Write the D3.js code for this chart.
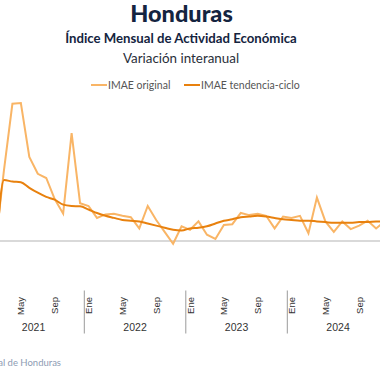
<!DOCTYPE html>
<html>
<head>
<meta charset="utf-8">
<script src="https://cdn.jsdelivr.net/npm/d3@7"></script>
<style>
  html, body { margin: 0; padding: 0; background: #fff; }
  svg { display: block; }
</style>
</head>
<body>
<div id="chart"></div>
<script>
// ---- Data ----
const years = ["2021", "2022", "2023", "2024"];
const monthNames = ["Ene","Feb","Mar","Abr","May","Jun","Jul","Ago","Sep","Oct","Nov","Dic"];
const tickMonths = ["Ene", "May", "Sep"];
// first month index with data: Feb 2021 (index 1)
const startIndex = 1;
const imaeOriginal = [
  -0.5, 10.1, 19.6, 19.7, 12.0, 9.6, 9.0, 6.0, 3.9, 15.4, 5.4,          // Feb-Dic 2021
  5.0, 3.3, 3.8, 3.9, 3.6, 3.4, 1.8, 5.0, 3.0, 1.3, -0.4, 2.1,          // 2022
  1.6, 2.8, 0.9, 0.3, 2.3, 2.4, 4.0, 3.7, 3.9, 3.6, 1.8, 3.5,           // 2023
  3.3, 3.6, 1.1, 6.2, 2.8, 1.3, 2.8, 1.7, 2.2, 2.9, 1.8, 2.8            // 2024
];
const imaeTendencia = [
  -2.9, 8.7, 8.5, 8.4, 7.6, 6.9, 6.3, 5.9, 5.2, 5.0, 4.95,
  4.5, 4.0, 3.6, 3.3, 3.0, 2.9, 2.8, 2.5, 2.2, 1.9, 1.6, 1.5,
  1.8, 1.9, 2.1, 2.5, 2.9, 3.1, 3.4, 3.5, 3.6, 3.5, 3.3, 3.1,
  3.0, 2.9, 2.9, 2.8, 2.7, 2.6, 2.6, 2.6, 2.7, 2.7, 2.8, 2.8
];
const seriesNames = ["IMAE original", "IMAE tendencia-ciclo"];
const seriesColors = ["#F9B566", "#E8810E"];

// ---- Setup ----
const W = 380, H = 380;
const svg = d3.select("#chart").append("svg").attr("width", W).attr("height", H);

const months = [];
years.forEach(y => monthNames.forEach(m => months.push(y + "-" + m)));

const x = d3.scaleBand().domain(months).range([-17.2, 388.8]).padding(0);
const y = d3.scaleLinear().domain([-1, 20]).range([248, 101]);
const cx = k => x(k) + x.bandwidth() / 2;

// Titles
svg.append("text").attr("x", 181.5).attr("y", 22).attr("text-anchor", "middle")
  .attr("font-family", "Lato, 'Open Sans', sans-serif").attr("font-weight", 900)
  .attr("font-size", 23.5).attr("fill", "#142440").text("Honduras");
svg.append("text").attr("x", 181).attr("y", 43).attr("text-anchor", "middle")
  .attr("font-family", "Lato, 'Open Sans', sans-serif").attr("font-weight", 700)
  .attr("font-size", 13.2).attr("fill", "#142440").text("Índice Mensual de Actividad Económica");
svg.append("text").attr("x", 181).attr("y", 63).attr("text-anchor", "middle")
  .attr("font-family", "Lato, 'Open Sans', sans-serif")
  .attr("font-size", 13.4).attr("fill", "#2a2f3a").text("Variación interanual");

// Legend
const legendX = [91, 184];
seriesNames.forEach((n, i) => {
  const g = svg.append("g").attr("transform", `translate(${legendX[i]},85)`);
  g.append("line").attr("x1", 0).attr("x2", 16).attr("y1", 0).attr("y2", 0)
    .attr("stroke", seriesColors[i]).attr("stroke-width", 2);
  g.append("text").attr("x", 17).attr("y", 3.5)
    .attr("font-family", "Lato, 'Open Sans', sans-serif").attr("font-size", 10.5)
    .attr("fill", "#555").text(n);
});

// Baseline
svg.append("line").attr("x1", 0).attr("x2", W).attr("y1", y(0)).attr("y2", y(0))
  .attr("stroke", "#b3b3b3").attr("stroke-width", 1.2);

// Lines
const dataKeys = months.slice(startIndex);
const lineLin = d3.line().x((d, i) => cx(dataKeys[i])).y(d => y(d));
const lineSmooth = d3.line().x((d, i) => cx(dataKeys[i])).y(d => y(d)).curve(d3.curveMonotoneX);

svg.append("path").datum(imaeOriginal).attr("d", lineLin)
  .attr("fill", "none").attr("stroke", seriesColors[0]).attr("stroke-width", 2)
  .attr("stroke-linejoin", "miter");
svg.append("path").datum(imaeTendencia).attr("d", lineSmooth)
  .attr("fill", "none").attr("stroke", seriesColors[1]).attr("stroke-width", 2);

// X axis: month labels (only those inside the visible frame)
const tickKeys = months.filter(k => tickMonths.includes(k.split("-")[1]) && cx(k) > 4 && cx(k) < W - 4);
svg.append("g").selectAll("text").data(tickKeys).join("text")
  .attr("transform", d => `translate(${cx(d) + 3.5},297) rotate(-90)`)
  .attr("text-anchor", "end")
  .attr("font-family", "'Liberation Sans', Arial, sans-serif").attr("font-size", 9.5)
  .attr("fill", "#333").text(d => d.split("-")[1]);

// Year separators
svg.append("g").selectAll("line").data(years.slice(1)).join("line")
  .attr("x1", d => x(d + "-Ene")).attr("x2", d => x(d + "-Ene"))
  .attr("y1", 290.5).attr("y2", 333.5)
  .attr("stroke", "#9a9a9a").attr("stroke-width", 1);

// Year labels
svg.append("g").selectAll("text").data(years).join("text")
  .attr("x", d => x(d + "-Ene") + 6 * x.bandwidth())
  .attr("y", 331)
  .attr("text-anchor", "middle")
  .attr("font-family", "'Liberation Sans', Arial, sans-serif").attr("font-size", 10.5)
  .attr("fill", "#333").text(d => d);

// Source (cropped at the left edge, as in the reference)
svg.append("text").attr("x", 61).attr("y", 366).attr("text-anchor", "end")
  .attr("font-family", "Lato, 'Open Sans', sans-serif").attr("font-size", 9.5)
  .attr("fill", "#8d9bb3").text("Fuente: Banco Central de Honduras");
</script>
</body>
</html>
